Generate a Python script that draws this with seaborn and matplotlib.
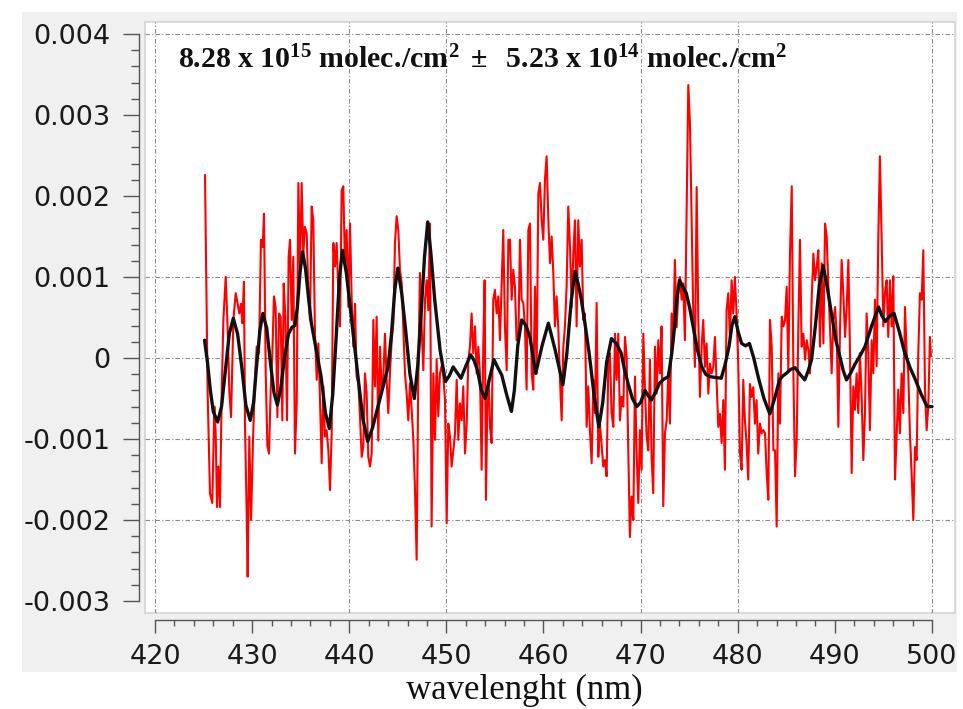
import numpy as np
import pandas as pd
import matplotlib
matplotlib.use("Agg")
import matplotlib.pyplot as plt
import seaborn as sns
from matplotlib.patches import Rectangle
from matplotlib.ticker import FixedLocator, FixedFormatter

# ---------------- data (values in units of 1e-3) ----------------
red_x = [
    425.15, 425.42, 425.66, 425.90, 426.11, 426.25, 426.38, 426.52, 426.69, 426.87,
    427.04, 427.28, 427.45, 427.65, 427.83, 428.07, 428.31, 428.51, 428.68, 428.86,
    428.99, 429.16, 429.27, 429.44, 429.54, 429.71, 429.89, 430.09, 430.30, 430.47,
    430.71, 430.91, 431.09, 431.22, 431.40, 431.57, 431.74, 431.91, 432.08, 432.25,
    432.42, 432.60, 432.77, 432.94, 433.11, 433.25, 433.42, 433.59, 433.76,
    433.90, 434.07, 434.24, 434.41, 434.59, 434.76, 434.93, 435.10, 435.27, 435.44,
    435.62, 435.79, 435.96, 436.13, 436.30, 436.47, 436.65, 436.82, 436.99, 437.16,
    437.33, 437.50, 437.67, 437.85, 438.02, 438.19, 438.36, 438.53, 438.70, 438.88,
    439.05, 439.22, 439.39, 439.56, 439.73, 439.91, 440.08, 440.25, 440.42, 440.59,
    440.76, 440.94, 441.11, 441.28, 441.45, 441.62, 441.79, 441.96, 442.14, 442.31,
    442.48, 442.65, 442.82, 442.99, 443.17, 443.34, 443.51,
    443.68, 443.85, 444.02, 444.19, 444.37, 444.54, 444.71, 444.88, 445.05, 445.22,
    445.40, 445.57, 445.74, 445.91, 446.08, 446.25, 446.43, 446.60, 446.77, 446.94,
    447.11, 447.28, 447.45, 447.63, 447.80, 447.97, 448.14, 448.31, 448.48, 448.66,
    448.83, 449.00, 449.17, 449.34, 449.51, 449.69, 449.86, 450.03, 450.20, 450.37,
    450.54, 450.72, 450.89, 451.06, 451.23, 451.40, 451.57, 451.74, 451.92, 452.09,
    452.26, 452.43, 452.60, 452.77, 452.95, 453.12, 453.29,
    453.46, 453.63, 453.80, 453.94, 454.08, 454.21, 454.35, 454.49, 454.66, 454.83,
    455.00, 455.18, 455.35, 455.52, 455.69, 455.86, 456.03, 456.21, 456.38, 456.55,
    456.72, 456.89, 457.06, 457.23, 457.41, 457.58, 457.75, 457.92, 458.09, 458.26,
    458.44, 458.61, 458.78, 458.95, 459.12, 459.29, 459.47, 459.64, 459.81, 459.98,
    460.15, 460.32, 460.50, 460.67, 460.84, 461.01, 461.18, 461.35, 461.52, 461.70,
    461.87, 462.04, 462.21, 462.38, 462.55, 462.73, 462.90, 463.07,
    463.24, 463.41, 463.58, 463.75, 463.93, 464.10, 464.27, 464.44, 464.61, 464.78,
    464.96, 465.13, 465.30, 465.47, 465.64, 465.81, 465.99, 466.16, 466.33, 466.50,
    466.67, 466.84, 467.01, 467.19, 467.36, 467.53, 467.70, 467.87, 468.04, 468.22,
    468.39, 468.56, 468.73, 468.90, 469.07, 469.25, 469.42, 469.59, 469.76, 469.93,
    470.10, 470.28, 470.45, 470.62, 470.79, 470.96, 471.13, 471.30, 471.48, 471.65,
    471.82, 471.99, 472.16, 472.33, 472.51, 472.68, 472.85,
    473.02, 473.19, 473.36, 473.53, 473.71, 473.88, 474.05, 474.22, 474.39, 474.56,
    474.74, 474.91, 475.08, 475.25, 475.42, 475.59, 475.77, 475.94, 476.11, 476.28,
    476.45, 476.62, 476.79, 476.97, 477.14, 477.31, 477.48, 477.65, 477.82, 478.00,
    478.17, 478.34, 478.51, 478.68, 478.85, 479.03, 479.20, 479.37, 479.54, 479.71,
    479.88, 480.05, 480.23, 480.40, 480.57, 480.74, 480.91, 481.08, 481.26, 481.43,
    481.60, 481.77, 481.94, 482.11, 482.29, 482.46, 482.63,
    482.81, 482.98, 483.15, 483.32, 483.50, 483.67, 483.84, 484.01, 484.18, 484.35,
    484.53, 484.70, 484.87, 485.04, 485.21, 485.38, 485.56, 485.73, 485.90, 486.07,
    486.24, 486.41, 486.58, 486.76, 486.93, 487.10, 487.27, 487.44, 487.61, 487.79,
    487.96, 488.13, 488.30, 488.47, 488.64, 488.82, 488.99, 489.16, 489.33, 489.50,
    489.67, 489.85, 490.02, 490.19, 490.36, 490.53, 490.70, 490.87, 491.05, 491.22,
    491.39, 491.56, 491.73, 491.90,
    492.07, 492.24, 492.41, 492.58, 492.76, 492.93, 493.10, 493.27, 493.44, 493.61,
    493.79, 493.96, 494.13, 494.30, 494.47, 494.64, 494.82, 494.99, 495.16, 495.33,
    495.50, 495.67, 495.85, 496.02, 496.19, 496.36, 496.53, 496.70, 496.87, 497.05,
    497.22, 497.39, 497.56, 497.73, 497.90, 498.08, 498.25, 498.42, 498.59, 498.76,
    498.93, 499.11, 499.28, 499.45, 499.62, 499.79, 499.89,
]
red_y = [
    2.26, -0.43, -1.67, -1.79, -0.60, -0.93, -1.84, -1.34, -1.84, -0.43,
    0.47, 1.00, 0.47, -0.40, -0.73, 0.47, 0.80, 0.67, 0.55, 0.67,
    0.43, 0.94, -0.85, -1.90, -2.70, -0.97, -2.00, -1.02, -0.23, 0.14,
    0.06, 1.46, 1.37, 1.78, -0.19, -1.09, -1.18, -0.40, 0.06, 0.76,
    0.63, -0.73, 0.55, 0.51, -0.77, 0.92, 0.51, -0.77, 1.25,
    1.46, 0.47, 1.25, -1.18, -0.56, 2.16, 1.09, 2.16, 1.29, 1.62,
    1.54, 0.80, 0.47, 1.87, 1.70, 0.30, -0.27, 0.18, -0.52, -1.30,
    -0.35, -0.97, -0.89, -1.14, -1.63, -0.93, 1.42, 1.13, 1.42, 0.80,
    0.39, 2.07, 2.12, 1.13, 1.58, 0.63, 1.66, 0.72, 0.14, 0.67,
    -0.23, -0.31, -0.73, -1.22, -1.09, -0.19, -0.43, -1.22, -1.34, -1.18,
    0.47, -0.35, 0.51, -1.02, 0.14, -0.43, -0.23,
    0.30, -0.27, -0.68, -0.19, 0.22, 0.43, 1.42, 1.75, 1.58, 1.09,
    0.92, 0.35, -0.19, -0.44, -0.77, -0.31, -0.64, -1.01, -1.63, -2.49,
    -0.19, 1.05, 0.39, -0.15, 0.72, 0.96, 0.59, 1.66, -2.08, -0.19,
    -1.01, -0.02, -0.72, -0.19, -0.10, -0.23, -0.52, -2.04, -0.81, -0.97,
    -1.34, -1.14, -0.93, -0.27, -1.01, -0.56, -0.77, -0.35, -1.18, -0.81,
    -0.02, 0.14, 0.55, 0.06, 0.39, -0.19, 0.14,
    -0.19, -1.38, 0.14, 0.96, -1.75, -0.60, -0.27, -0.85, -1.05, 0.72,
    0.84, 0.55, 0.76, 0.22, 0.88, 1.58, 0.39, -0.15, 1.46, 1.46,
    0.72, 1.09, 0.88, 0.22, 0.22, 1.46, 0.72, 0.68, 0.39, -0.39,
    1.58, 1.66, -0.19, -0.39, 0.88, -0.19, 2.03, 2.16, 1.70, 1.46,
    2.20, 2.49, 1.70, 1.17, 1.50, 1.05, 0.39, 0.76, 0.39, -0.27,
    -0.77, 0.14, 0.39, 0.88, 1.87, 1.38, 0.63, 1.29,
    1.70, 0.39, 1.70, 1.13, 1.46, 0.47, 0.55, -0.85, -0.35, -0.89,
    -1.30, -0.27, -0.68, 0.68, -1.22, -0.81, -1.09, -1.34, -1.26, -1.46,
    -0.10, 0.06, -0.68, -0.85, 0.30, -0.27, 0.30, -0.77, -0.48, -0.60,
    0.26, 0.02, -1.14, -2.21, -1.71, -2.00, -0.23, -1.18, -1.79, -0.89,
    -1.38, 0.30, -0.39, -0.97, -1.14, -0.02, -1.22, -1.67, 0.14, -0.44,
    0.22, -0.19, 0.39, -1.83, -0.93, -0.77, -0.19,
    -0.81, 0.55, 0.18, 1.21, 0.38, 0.80, 1.00, 0.72, 0.92, 0.22,
    1.80, 3.37, 2.90, 1.70, 0.55, -0.11, 2.11, 0.47, -0.48, 0.14,
    0.47, -0.11, 0.18, -0.44, -0.07, -0.19, -0.11, 0.26, -0.27, -0.85,
    -0.69, -1.05, -0.52, -1.38, 0.59, 0.80, 0.22, 0.96, 0.55, 1.00,
    0.55, -0.07, -1.18, -1.38, -0.27, -0.77, -1.05, -1.50, -0.32, -0.48,
    -0.36, -0.81, -0.52, -1.18, -0.81, -0.93, -0.89,
    -0.93, -1.42, -1.75, 0.47, 0.14, -1.14, -1.14, -2.08, -0.19, -0.81,
    0.51, 0.39, 0.47, 0.88, -0.15, 1.29, 2.12, -0.19, -1.46, -1.01,
    0.39, 1.46, 0.14, 0.30, -0.02, 0.22, 0.10, -0.19, 0.72, 1.29,
    0.96, 1.13, 1.33, 0.14, 1.17, 0.18, 1.66, 1.50, 0.88, 0.39,
    -0.19, 0.47, 0.63, 0.30, -0.85, 0.35, 1.21, 0.80, 0.26, 0.63,
    1.21, 0.06, -1.42, -0.35,
    -0.64, -0.19, -0.68, 0.06, -0.48, -1.26, -0.68, 0.55, 0.06, -0.89,
    0.22, -0.19, 0.72, -0.10, 1.46, 2.49, 1.46, 0.39, 0.80, 0.96,
    0.26, 0.96, 0.39, 1.01, -1.50, -0.97, -0.39, -0.93, -0.19, -0.68,
    0.63, 0.06, -0.19, -0.93, -1.42, -2.00, -1.10, -1.26, 0.06, 0.80,
    0.72, 1.33, -0.39, -0.89, -0.60, 0.26, 0.02,
]

black_x = [
    425.10, 425.40, 425.70, 426.00, 426.45, 426.85, 427.25, 427.65, 428.06, 428.50,
    428.95, 429.35, 429.80, 430.15, 430.45, 430.80, 431.10, 431.50, 431.85, 432.25,
    432.60, 432.95, 433.35, 433.75, 434.10, 434.40, 434.65, 434.95, 435.20, 435.50,
    435.80, 436.10, 436.60, 437.10, 437.55, 437.95, 438.30, 438.65, 439.00, 439.30,
    439.70, 440.10, 440.50, 440.90, 441.40, 441.90, 442.40, 443.00, 443.50, 444.00,
    444.35, 444.70, 445.00, 445.40, 445.80, 446.25, 446.70, 447.05, 447.40, 447.75,
    448.08, 448.40, 448.80, 449.35, 449.90, 450.30, 450.70, 451.10, 451.50, 452.00,
    452.50, 452.85, 453.20, 453.60, 454.00, 454.45, 454.90, 455.30, 455.70, 456.20,
    456.70, 457.00, 457.35, 457.75, 458.20, 458.60, 459.20, 459.85, 460.50, 461.20,
    462.00, 462.40, 462.85, 463.25, 463.60, 463.90, 464.30, 464.70, 465.20, 465.70,
    466.10, 466.50, 467.00, 467.50, 468.00, 468.35, 468.70, 469.15, 469.60, 470.00,
    470.45, 470.75, 471.10, 471.55, 471.95, 472.40, 472.85, 473.20, 473.50, 473.75,
    474.00, 474.35, 474.70, 475.05, 475.40, 475.85, 476.30, 476.70, 477.10, 477.70,
    478.30, 478.70, 479.10, 479.40, 479.70, 480.05, 480.40, 480.80, 481.20, 481.65,
    482.10, 482.70, 483.30, 483.80, 484.30, 484.65, 485.00, 485.45, 485.90, 486.40,
    486.90, 487.25, 487.60, 488.00, 488.40, 488.80, 489.25, 489.70, 490.10, 490.50,
    490.85, 491.20, 491.65, 492.10, 492.60, 493.10, 493.80, 494.50, 494.85, 495.20,
    495.65, 496.10, 496.65, 497.20, 497.75, 498.30, 498.90, 499.50, 500.00,
]
black_y = [
    0.22, -0.05, -0.40, -0.66, -0.79, -0.60, -0.15, 0.30, 0.49, 0.30,
    -0.13, -0.58, -0.77, -0.55, -0.11, 0.34, 0.55, 0.37, -0.02, -0.43,
    -0.58, -0.37, 0.02, 0.30, 0.38, 0.40, 0.62, 1.08, 1.31, 1.10,
    0.75, 0.43, 0.10, -0.23, -0.68, -0.87, -0.45, 0.25, 1.00, 1.33,
    1.05, 0.63, 0.20, -0.23, -0.75, -1.03, -0.86, -0.58, -0.35, -0.11,
    0.30, 0.85, 1.11, 0.80, 0.35, -0.20, -0.50, -0.10, 0.55, 1.25,
    1.68, 1.30, 0.72, 0.10, -0.29, -0.22, -0.11, -0.18, -0.25, -0.10,
    0.04, -0.03, -0.15, -0.40, -0.50, -0.25, -0.02, -0.12, -0.21, -0.45,
    -0.66, -0.40, 0.15, 0.47, 0.40, 0.26, -0.19, 0.15, 0.43, 0.10,
    -0.33, 0.05, 0.70, 1.07, 0.90, 0.72, 0.40, 0.06, -0.45, -0.85,
    -0.55, -0.05, 0.24, 0.18, 0.06, -0.15, -0.31, -0.50, -0.60, -0.55,
    -0.40, -0.46, -0.52, -0.42, -0.31, -0.26, -0.23, 0.05, 0.39, 0.75,
    0.96, 0.88, 0.80, 0.62, 0.39, 0.10, -0.11, -0.20, -0.23, -0.24,
    -0.25, -0.08, 0.14, 0.40, 0.51, 0.32, 0.18, 0.15, 0.18, 0.00,
    -0.23, -0.50, -0.69, -0.50, -0.27, -0.22, -0.19, -0.14, -0.12, -0.20,
    -0.27, -0.16, -0.02, 0.40, 0.90, 1.14, 0.85, 0.51, 0.22, 0.02,
    -0.15, -0.27, -0.18, -0.07, 0.03, 0.14, 0.40, 0.63, 0.52, 0.45,
    0.52, 0.55, 0.32, 0.06, -0.12, -0.27, -0.45, -0.60, -0.60,
]

x_ticks = [420, 430, 440, 450, 460, 470, 480, 490, 500]
y_ticks = [-0.003, -0.002, -0.001, 0.0, 0.001, 0.002, 0.003, 0.004]
y_tick_labels = ["-0.003", "-0.002", "-0.001", "0", "0.001", "0.002", "0.003", "0.004"]
grid_x = [420, 440, 450, 470, 480, 500]
grid_y = [0.004, 0.001, 0.0, -0.001, -0.002]
title = (r"$\mathbf{8.28\ x\ 10^{15}\ molec.\!/cm^{2}\ \pm\ \ "
         r"5.23\ x\ 10^{14}\ molec.\!/cm^{2}}$")
x_label = "wavelenght (nm)"

# ---------------- style ----------------
sns.set_style("ticks")
plt.rcParams["font.family"] = ["DejaVu Sans"]
plt.rcParams["mathtext.fontset"] = "custom"
plt.rcParams["mathtext.rm"] = "Liberation Serif"
plt.rcParams["mathtext.bf"] = "Liberation Serif:bold"
plt.rcParams["mathtext.it"] = "Liberation Serif:italic"

W, H = 963, 709
fig = plt.figure(figsize=(W / 100, H / 100), dpi=100)
fig.patch.set_facecolor("white")


def fx(px):
    return px / W


def fy(py):
    return 1 - py / H


# gray panel
fig.patches.append(Rectangle((fx(22), fy(672)), fx(957) - fx(22), fy(12) - fy(672),
                             transform=fig.transFigure, facecolor="#f0f0f0",
                             edgecolor="none", zorder=-5))

ax = fig.add_axes([fx(145), fy(613), fx(955) - fx(145), fy(22) - fy(613)])
ax.set_facecolor("white")
ax.add_patch(Rectangle((0, 0), 1, 1, transform=ax.transAxes, fill=False,
                       edgecolor="#d4d4d4", lw=1.2, clip_on=False, zorder=0))

for gx in grid_x:
    ax.axvline(gx, color="#8a8a8a", lw=0.8, ls=(0, (4, 2, 1, 2)), zorder=1)
for gy in grid_y:
    ax.axhline(gy, color="#8a8a8a", lw=0.8, ls=(0, (4, 2, 1, 2)), zorder=1)

df_red = pd.DataFrame({"wl": red_x, "v": np.array(red_y) * 1e-3})
df_blk = pd.DataFrame({"wl": black_x, "v": np.array(black_y) * 1e-3})
sns.lineplot(data=df_red, x="wl", y="v", color="#ff0000", lw=1.5, ax=ax,
             estimator=None, sort=False, zorder=3)
sns.lineplot(data=df_blk, x="wl", y="v", color="#111111", lw=2.4, ax=ax,
             estimator=None, sort=False, zorder=4)

ax.set_xlim(418.97, 502.37)
ax.set_ylim(-0.003148, 0.004148)
ax.set_xlabel("")
ax.set_ylabel("")

for s in ["top", "right"]:
    ax.spines[s].set_visible(False)
ax.spines["left"].set_position(("outward", 4.3))
ax.spines["left"].set_bounds(-0.003, 0.004)
ax.spines["bottom"].set_position(("outward", 5.0))
ax.spines["bottom"].set_bounds(420, 500)
for s in ["left", "bottom"]:
    ax.spines[s].set_color("#555555")
    ax.spines[s].set_linewidth(1.0)

ax.xaxis.set_major_locator(FixedLocator(x_ticks))
ax.xaxis.set_minor_locator(FixedLocator(np.arange(420, 501, 2)))
ax.yaxis.set_major_locator(FixedLocator(y_ticks))
ax.yaxis.set_major_formatter(FixedFormatter(y_tick_labels))
ax.yaxis.set_minor_locator(FixedLocator(np.round(np.arange(-0.003, 0.00401, 0.0002), 5)))

ax.tick_params(axis="y", which="major", length=11.5, width=1, color="#555555",
               labelsize=19.5, pad=9, labelcolor="#1a1a1a")
ax.tick_params(axis="y", which="minor", length=5.8, width=1, color="#555555")
ax.tick_params(axis="x", which="major", length=9.4, width=1, color="#555555",
               labelsize=19.5, pad=8, labelcolor="#1a1a1a")
ax.tick_params(axis="x", which="minor", length=4.3, width=1, color="#555555")

fig.text(fx(178), fy(68), title, fontsize=21.5, ha="left", va="baseline", color="#111111")
fig.text(fx(524), fy(690), x_label, family="Liberation Serif", fontsize=25,
         ha="center", va="center", color="#111111")

fig.savefig("out.png", dpi=100, facecolor="white")
